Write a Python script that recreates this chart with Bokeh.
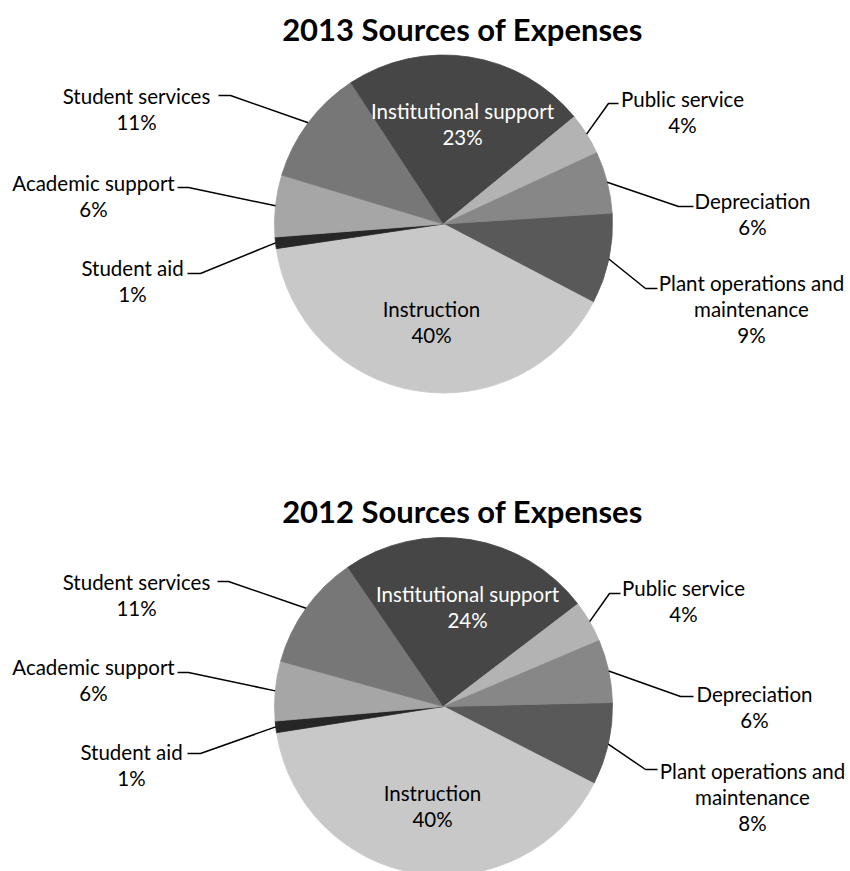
import numpy as np
from bokeh.plotting import figure
from bokeh.models import Range1d
from bokeh.embed import file_html
from bokeh.resources import INLINE
from bokeh.core.properties import value

# ---------------- data ----------------
categories = ["Plant operations and maintenance", "Instruction", "Student aid",
              "Academic support", "Student services", "Institutional support",
              "Public service", "Depreciation"]
label_lines = [["Plant operations and", "maintenance"], ["Instruction"], ["Student aid"],
               ["Academic support"], ["Student services"], ["Institutional support"],
               ["Public service"], ["Depreciation"]]
share_2013 = [8.7, 40.0, 1.1, 5.9, 11.1, 23.3, 4.0, 5.9]
share_2012 = [7.9, 40.0, 1.1, 5.7, 11.1, 24.2, 4.0, 6.0]
titles = ["2013 Sources of Expenses", "2012 Sources of Expenses"]

# ---------------- style / layout ----------------
palette = ["#595959", "#c8c8c8", "#262626", "#a6a6a6", "#777777", "#464646", "#b3b3b3", "#878787"]
W, H = 850, 871
FONT = "Lato"
R = 169
LINE_GAP = 26

def X(px):
    return px

def Y(py):
    return H - py

layouts = [
    dict(title_y=28, cx=443, cy=223.5, start=3.7, labels=[
        (751, 282, [(645, 288), (657, 288)]),
        (431, 308, None),
        (132, 267, [(200, 273), (187, 273)]),
        (93, 182, [(188, 187), (177, 187)]),
        (136, 95, [(230, 95), (218, 95)]),
        (462, 110, None),
        (682, 98, [(608, 103), (618, 103)]),
        (752, 200, [(678, 206), (693, 206)]),
    ]),
    dict(title_y=510, cx=443, cy=706, start=1.35, labels=[
        (752, 770, [(645, 769), (657, 769)]),
        (432, 792, None),
        (131, 751, [(200, 753), (187, 753)]),
        (93, 666, [(188, 672), (177, 672)]),
        (136, 581, [(228, 581), (217, 581)]),
        (467, 593, None),
        (683, 587, [(609, 593), (620, 593)]),
        (754, 693, [(680, 696), (693, 696)]),
    ]),
]

p = figure(width=W, height=H, output_backend="svg", toolbar_location=None,
           x_range=Range1d(0, W), y_range=Range1d(0, H), min_border=0)
p.axis.visible = False
p.grid.visible = False
p.outline_line_color = None
p.background_fill_color = "white"

for shares, title, lay in zip([share_2013, share_2012], titles, layouts):
    vals = np.array(shares, dtype=float)
    frac = vals / vals.sum()
    cum = np.concatenate([[0.0], np.cumsum(frac)])
    a0 = np.deg2rad(lay["start"])
    starts = a0 - cum[:-1] * 2 * np.pi
    ends = a0 - cum[1:] * 2 * np.pi
    cx, cy = X(lay["cx"]), Y(lay["cy"])
    p.wedge(x=[cx] * len(vals), y=[cy] * len(vals), radius=R,
            start_angle=list(starts), end_angle=list(ends), direction="clock",
            fill_color=palette, line_color=palette, line_width=0.8)

    p.text(x=[X(462)], y=[Y(lay["title_y"])], text=[title], text_font=value(FONT),
           text_font_style="bold", text_font_size="31px", text_align="center",
           text_baseline="middle", text_color="black")

    mids = (starts + ends) / 2
    for i, (lx, ly, leader) in enumerate(lay["labels"]):
        lines = label_lines[i] + [f"{round(shares[i])}%"]
        color = "white" if i == 5 else "black"
        for k, t in enumerate(lines):
            p.text(x=[X(lx)], y=[Y(ly + k * LINE_GAP)], text=[t], text_font=value(FONT),
                   text_font_size="20.5px", text_align="center", text_baseline="middle",
                   text_color=color)
        if leader is not None:
            ex = cx + R * np.cos(mids[i])
            ey = cy + R * np.sin(mids[i])
            xs = [ex] + [X(a) for a, b in leader]
            ys = [ey] + [Y(b) for a, b in leader]
            p.line(xs, ys, line_color="black", line_width=1.5)

open("out.html", "w").write(file_html(p, INLINE))
